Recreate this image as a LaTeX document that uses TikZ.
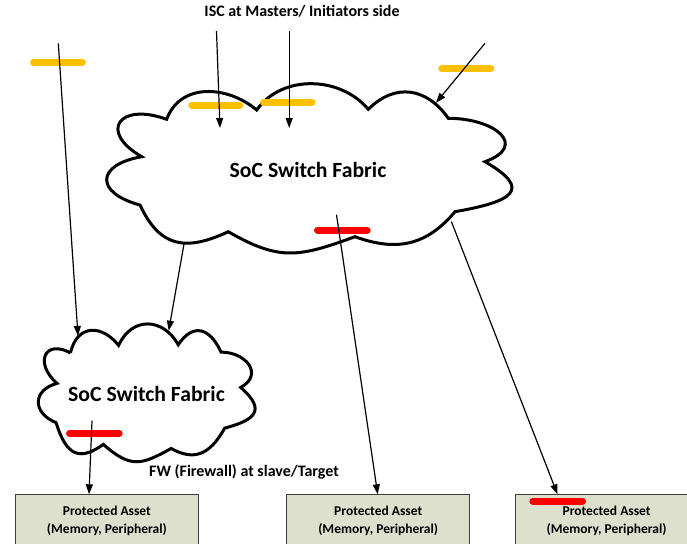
\documentclass[tikz,border=0pt]{standalone}
\usepackage{fontspec}
\setmainfont{Carlito}
\usetikzlibrary{arrows.meta}
\definecolor{barYellow}{HTML}{FFC000}
\definecolor{barRed}{HTML}{FF0000}
\definecolor{assetFill}{RGB}{220,224,204}
\definecolor{assetLine}{RGB}{60,60,60}
\tikzset{
  cloudline/.style={line width=3pt, draw=black, fill=white},
  flow/.style={line width=1.2pt, -{Triangle[length=10pt,width=7pt]}},
  yellowbar/.style={line width=7pt, line cap=round, draw=barYellow},
  redbar/.style={line width=7pt, line cap=round, draw=barRed},
  assetbox/.style={draw=assetLine, line width=0.9pt, fill=assetFill,
    minimum width=183.2pt, minimum height=53.4pt, inner sep=0pt, outer sep=0pt,
    anchor=north west, align=center,
    font=\fontsize{13.5}{17.7}\selectfont\bfseries},
  cloudlabel/.style={font=\fontsize{21.7}{26}\selectfont\bfseries},
  caption/.style={font=\fontsize{16}{19}\selectfont\bfseries},
  cloudshape/.pic={
    \draw[cloudline] (166.7,-119.3)
      to[out=70,in=140,looseness=1.1] (256.7,-110)
      to[out=55,in=130] (368.3,-109.3)
      to[out=45,in=125,looseness=1.2] (448.3,-118.3)
      to[out=0,in=20,looseness=2.1] (485,-161.7)
      to[out=-30,in=10,looseness=2.5] (455,-211.7)
      to[out=230,in=-20,looseness=1.1] (355,-236.7)
      to[out=200,in=-30,looseness=1.2] (228.3,-231.7)
      to[out=205,in=-65,looseness=1.3] (140,-205)
      to[out=165,in=190,looseness=2.47] (141.7,-156.7)
      to[out=150,in=160,looseness=2.87] cycle;
  }
}
\begin{document}
\begin{tikzpicture}[x=1pt,y=1pt]
\useasboundingbox (0,0) rectangle (687,-543);
\clip (0,0) rectangle (687,-543);

% protected assets along the bottom edge
\node[assetbox] (box1) at (15.3,-494.3) {Protected Asset\\(Memory, Peripheral)};
\node[assetbox] (box2) at (286.6,-494.3) {Protected Asset\\(Memory, Peripheral)};
\node[assetbox] (box3) at (515,-494.3) {Protected Asset\\(Memory, Peripheral)};

% the two switch fabrics
\pic {cloudshape};
\pic[shift={(-18.78,-255.81)}, xscale=0.535, yscale=0.814] {cloudshape};
\node[cloudlabel] (bigcloud) at (308,-169.5) {SoC Switch Fabric};
\node[cloudlabel] (smallcloud) at (146.5,-393.5) {SoC Switch Fabric};

% initiator-side checkers (yellow) and target-side firewalls (red)
\draw[yellowbar] (33.5,-62.3) -- (82.4,-62.3);
\draw[yellowbar] (191.8,-105) -- (239.8,-105);
\draw[yellowbar] (263.5,-102) -- (312,-102);
\draw[yellowbar] (441.8,-68.7) -- (490.8,-68.7);
\draw[redbar] (317.5,-230) -- (367.2,-230);
\draw[redbar] (69.5,-433.3) -- (119.2,-433.3);
\draw[redbar] (532.8,-501) -- (582.5,-501);

% connector end points
\coordinate (m1) at (58.3,-43.3);
\coordinate (m2) at (216.5,-31.2);
\coordinate (m3) at (289.2,-31.2);
\coordinate (m4) at (485,-43.3);
\coordinate (s1in) at (78,-336);
\coordinate (b1in) at (220,-128);
\coordinate (b2in) at (289.2,-128);
\coordinate (b3in) at (436,-102.8);
\coordinate (bout1) at (184,-244);
\coordinate (s1in2) at (168.7,-330.7);
\coordinate (bout2) at (336.5,-214.7);
\coordinate (bout3) at (451.4,-221.6);
\coordinate (sout) at (92,-420.7);
\coordinate (t1) at (89,-494.3);
\coordinate (t2) at (377.7,-494.3);
\coordinate (t3) at (557.5,-494.3);

\draw[flow] (m1) -- (s1in);
\draw[flow] (m2) -- (b1in);
\draw[flow] (m3) -- (b2in);
\draw[flow] (m4) -- (b3in);
\draw[flow] (bout1) -- (s1in2);
\draw[flow] (bout2) -- (t2);
\draw[flow] (bout3) -- (t3);
\draw[flow] (sout) -- (t1);

% captions
\node[caption] (title) at (302,-11) {ISC at Masters/ Initiators side};
\node[caption] (fwnote) at (244,-471.6) {FW (Firewall) at slave/Target};
\end{tikzpicture}
\end{document}
